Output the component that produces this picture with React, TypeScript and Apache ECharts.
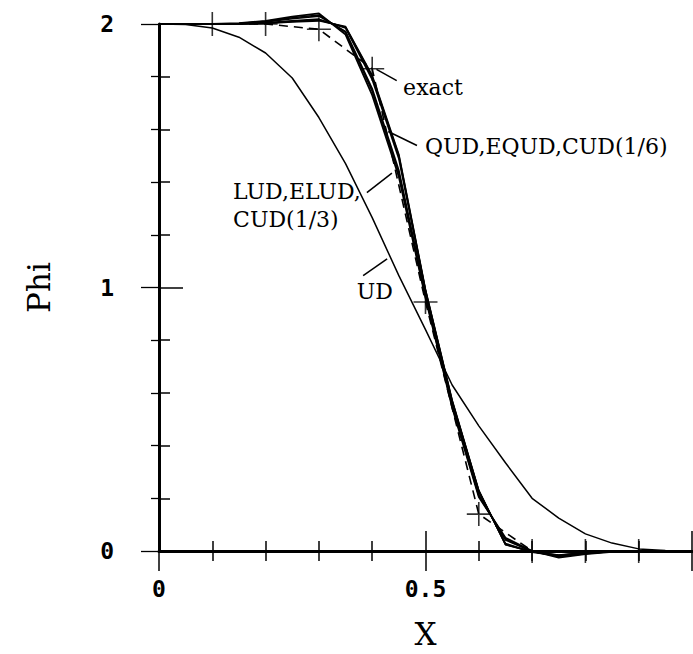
import React, { useEffect, useRef } from "react";
import * as echarts from "echarts";

// Grid nodes of the computed solutions
const xNodes = [0, 0.05, 0.1, 0.15, 0.2, 0.25, 0.3, 0.35, 0.4, 0.45, 0.5, 0.55, 0.6, 0.65, 0.7, 0.75, 0.8, 0.85, 0.9, 0.95, 1.0];

// Second-order family
const phiLUD = [2, 2, 2, 2.003, 2.012, 2.028, 2.04, 1.96, 1.73, 1.42, 0.96, 0.545, 0.205, 0.05, 0.0, -0.025, -0.012, -0.003, 0, 0, 0];
const phiELUD = [2, 2, 2, 2.002, 2.01, 2.024, 2.034, 1.968, 1.745, 1.435, 0.965, 0.55, 0.21, 0.045, 0.0, -0.022, -0.01, -0.002, 0, 0, 0];
const phiCUD13 = [2, 2, 2, 2.002, 2.008, 2.02, 2.03, 1.972, 1.755, 1.445, 0.97, 0.553, 0.212, 0.042, -0.002, -0.02, -0.009, -0.002, 0, 0, 0];

// Third-order family
const phiQUD = [2, 2, 2, 2.0, 2.004, 2.012, 2.018, 1.985, 1.79, 1.49, 0.985, 0.565, 0.225, 0.028, -0.004, -0.018, -0.008, -0.001, 0, 0, 0];
const phiEQUD = [2, 2, 2, 2.0, 2.003, 2.01, 2.015, 1.988, 1.8, 1.5, 0.99, 0.57, 0.228, 0.025, -0.003, -0.016, -0.007, -0.001, 0, 0, 0];
const phiCUD16 = [2, 2, 2, 2.0, 2.002, 2.008, 2.012, 1.99, 1.805, 1.505, 0.992, 0.572, 0.23, 0.024, -0.003, -0.015, -0.006, -0.001, 0, 0, 0];

// First-order upwind
const phiUD = [2, 1.998, 1.985, 1.95, 1.89, 1.795, 1.645, 1.47, 1.265, 1.045, 0.84, 0.63, 0.475, 0.335, 0.2, 0.125, 0.065, 0.03, 0.008, 0.002, 0];

// Exact solution
const exactX = [0, 0.1, 0.2, 0.3, 0.4, 0.5, 0.6, 0.7, 0.8, 0.9, 1.0];
const exactPhi = [2, 2, 2, 1.98, 1.83, 0.945, 0.14, 0, 0, 0, 0];

// Tick labels shown on each axis
const xTickLabels = [0, 0.5];
const yTickLabels = [0, 1, 2];

// Curve annotations (data coordinates)
const labelTexts = ["exact", "QUD,EQUD,CUD(1/6)", "LUD,ELUD,", "CUD(1/3)", "UD"];
const labelAnchors = [
  [0.458, 1.76],
  [0.499, 1.536],
  [0.139, 1.363],
  [0.139, 1.258],
  [0.371, 0.985],
];
const leaderStarts = [
  [0.408, 1.828],
  [0.43, 1.592],
  [0.437, 1.434],
  [0.428, 1.109],
];
const leaderEnds = [
  [0.446, 1.785],
  [0.484, 1.539],
  [0.39, 1.36],
  [0.383, 1.045],
];

const pair = (xs: number[], ys: number[]) => xs.map((x, i) => [x, ys[i]]);

const numberFont = "DejaVu Sans Mono";
const serifFont = "DejaVu Serif";

export default function App() {
  const ref = useRef<HTMLDivElement>(null);

  useEffect(() => {
    document.body.style.margin = "0";
    const chart = echarts.init(ref.current!, undefined, { renderer: "svg" });

    const solid = (name: string, ys: number[], width: number) => ({
      name,
      type: "line",
      data: pair(xNodes, ys),
      symbol: "none",
      clip: false,
      lineStyle: { color: "#000", width },
      z: 3,
    });

    const exactMarks = pair(exactX, exactPhi).filter((p) => p[0] > 0 && p[0] < 1);

    chart.setOption({
      animation: false,
      backgroundColor: "#fff",
      grid: { left: 159, right: 1, top: 24, bottom: 96 },
      xAxis: [
        {
          type: "value",
          position: "bottom",
          min: 0,
          max: 1,
          interval: 0.5,
          name: "X",
          nameLocation: "middle",
          nameGap: 67,
          nameTextStyle: { fontFamily: serifFont, fontSize: 31, color: "#000" },
          axisLine: { show: true, lineStyle: { color: "#000", width: 3 } },
          axisTick: { show: true, inside: true, length: 20, lineStyle: { color: "#000", width: 1.5 } },
          minorTick: { show: true, splitNumber: 5, length: 10, lineStyle: { color: "#000", width: 1.5 } },
          splitLine: { show: false },
          axisLabel: {
            show: true,
            margin: 26,
            showMaxLabel: false,
            fontFamily: numberFont,
            fontWeight: "bold",
            fontSize: 23,
            color: "#000",
            formatter: (v: number) => (xTickLabels.includes(v) ? String(v) : ""),
          },
        },
        {
          type: "value",
          position: "top",
          min: 0,
          max: 1,
          interval: 0.5,
          axisLine: { show: true, lineStyle: { color: "#000", width: 2.5 } },
          axisTick: { show: true, inside: true, length: 20, lineStyle: { color: "#000", width: 1.5 } },
          minorTick: { show: true, splitNumber: 5, length: 10, lineStyle: { color: "#000", width: 1.5 } },
          splitLine: { show: false },
          axisLabel: { show: false },
        },
      ],
      yAxis: [
        {
          type: "value",
          position: "left",
          min: 0,
          max: 2,
          interval: 1,
          name: "Phi",
          nameLocation: "middle",
          nameGap: 105,
          nameRotate: 90,
          nameTextStyle: { fontFamily: serifFont, fontSize: 31, color: "#000" },
          axisLine: { show: true, lineStyle: { color: "#000", width: 3 } },
          axisTick: { show: true, inside: true, length: 24, lineStyle: { color: "#000", width: 1.5 } },
          minorTick: { show: true, splitNumber: 5, length: 11, lineStyle: { color: "#000", width: 1.5 } },
          splitLine: { show: false },
          axisLabel: {
            show: true,
            margin: 45,
            fontFamily: numberFont,
            fontWeight: "bold",
            fontSize: 23,
            color: "#000",
            formatter: (v: number) => (yTickLabels.includes(v) ? String(v) : ""),
          },
        },
        {
          type: "value",
          position: "right",
          min: 0,
          max: 2,
          interval: 1,
          axisLine: { show: true, lineStyle: { color: "#000", width: 1.5 } },
          axisTick: { show: true, inside: true, length: 18, lineStyle: { color: "#000", width: 1.3 } },
          minorTick: { show: true, splitNumber: 5, length: 8, lineStyle: { color: "#000", width: 1.3 } },
          splitLine: { show: false },
          axisLabel: { show: false },
        },
      ],
      series: [
        solid("LUD", phiLUD, 1.8),
        solid("ELUD", phiELUD, 1.6),
        solid("CUD(1/3)", phiCUD13, 1.6),
        solid("QUD", phiQUD, 1.8),
        solid("EQUD", phiEQUD, 1.6),
        solid("CUD(1/6)", phiCUD16, 1.6),
        solid("UD", phiUD, 1.5),
        {
          name: "exact",
          type: "line",
          data: pair(exactX, exactPhi),
          symbol: "none",
          clip: false,
          lineStyle: { color: "#000", width: 1.6, type: [9, 6] },
          z: 4,
        },
        {
          name: "exact points",
          type: "scatter",
          data: exactMarks,
          symbol: "path://M12,0V24M0,12H24",
          symbolSize: 24,
          clip: false,
          itemStyle: { color: "transparent", borderColor: "#000", borderWidth: 1.6 },
          z: 5,
        },
      ],
    });

    const toPx = (p: number[]) => chart.convertToPixel({ xAxisIndex: 0, yAxisIndex: 0 }, p) as number[];

    const graphics: any[] = [];
    leaderStarts.forEach((s, i) => {
      const a = toPx(s);
      const b = toPx(leaderEnds[i]);
      graphics.push({
        type: "line",
        shape: { x1: a[0], y1: a[1], x2: b[0], y2: b[1] },
        style: { stroke: "#000", lineWidth: 1.5 },
        z: 10,
      });
    });
    labelTexts.forEach((t, i) => {
      const p = toPx(labelAnchors[i]);
      graphics.push({
        type: "text",
        x: p[0],
        y: p[1],
        style: {
          text: t,
          font: `22px "${serifFont}"`,
          fill: "#000",
          textAlign: "left",
          textVerticalAlign: "middle",
          align: "left",
          verticalAlign: "middle",
        },
        z: 10,
      });
    });
    chart.setOption({ graphic: graphics });

    return () => chart.dispose();
  }, []);

  return <div ref={ref} style={{ position: "fixed", left: 0, top: 0, width: 693, height: 654 }} />;
}
